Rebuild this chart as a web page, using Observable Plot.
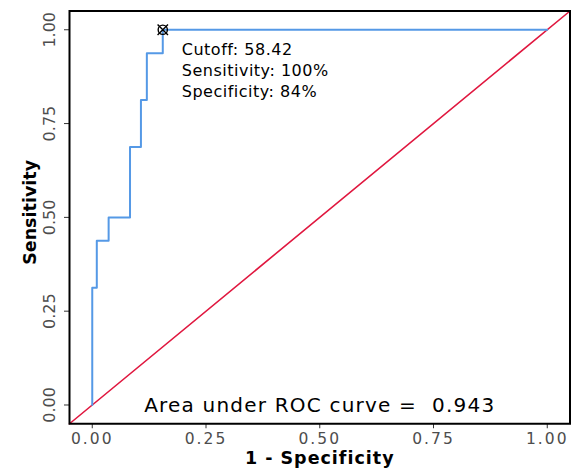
<!DOCTYPE html>
<html><head><meta charset="utf-8">
<script src="https://cdn.jsdelivr.net/npm/d3@7"></script>
<script src="https://cdn.jsdelivr.net/npm/@observablehq/plot@0.6"></script>
<style>body{margin:0;background:#fff}</style>
</head><body><div id="chart"></div>
<script>
// ROC curve points (1 - specificity, sensitivity)
const fpr = [0, 0, 0.01, 0.036, 0.083, 0.107, 0.12, 0.155, 1];
const tpr = [0, 0.3125, 0.4375, 0.5, 0.6875, 0.8125, 0.9375, 1, 1];
const tickValues = [0, 0.25, 0.5, 0.75, 1];
const tickLabels = ["0.00", "0.25", "0.50", "0.75", "1.00"];
const cutoffFpr = [0.155];
const cutoffTpr = [1];
const cutoffLines = ["Cutoff: 58.42", "Sensitivity: 100%", "Specificity: 84%"];
const aucLabel = ["Area under ROC curve =\u00a0\u00a00.943"];
const xTitle = ["1 - Specificity"];
const yTitle = ["Sensitivity"];
const domain = [-0.05, 1.05];

const roc = fpr.map((f, i) => ({fpr: f, tpr: tpr[i]}));
const cutoff = cutoffFpr.map((f, i) => ({fpr: f, tpr: cutoffTpr[i], text: cutoffLines.join("\n")}));
const fmt = d => tickLabels[tickValues.indexOf(d)];

const blue = "#5599e6";
const red = "#e0173f";

const plot = Plot.plot({
  width: 576,
  height: 468,
  marginLeft: 69,
  marginRight: 6.5,
  marginTop: 10.5,
  marginBottom: 44.75,
  style: {fontFamily: "DejaVu Sans", background: "white"},
  x: {domain, label: null},
  y: {domain, label: null},
  marks: [
    Plot.line(domain, {x: d => d, y: d => d, stroke: red, strokeWidth: 1.6}),
    Plot.line(roc, {x: "fpr", y: "tpr", curve: "step-after", stroke: blue, strokeWidth: 2}),
    Plot.dot(cutoff, {x: "fpr", y: "tpr", r: 4.6, stroke: "black", strokeWidth: 1.4, fill: "none"}),
    Plot.dot(cutoff, {x: "fpr", y: "tpr", symbol: "times", r: 4.8, stroke: "black", strokeWidth: 1.4}),
    Plot.text(cutoff, {x: "fpr", y: "tpr", text: "text", textAnchor: "start", lineAnchor: "bottom",
      lineHeight: 1.3, dx: 19, dy: 67, fontSize: 16, fill: "black"}),
    Plot.text(aucLabel, {x: 0.5, y: 0, text: d => d, fontSize: 20, lineAnchor: "bottom", dy: 7,
      fill: "black"}),
    Plot.axisX(tickValues, {tickSize: 5, tickPadding: 4, tickFormat: fmt, fontSize: 15.5,
      stroke: "#333", fill: "#4d4d4d", label: null}),
    Plot.axisY(tickValues, {tickSize: 5, tickFormat: () => "", stroke: "#333", label: null}),
    Plot.text(tickValues, {y: d => d, text: fmt, frameAnchor: "left", dx: -20, rotate: -90,
      fontSize: 16, fill: "#4d4d4d", textAnchor: "middle", lineAnchor: "middle"}),
    Plot.text(yTitle, {y: 0.5, text: d => d, frameAnchor: "left", dx: -39, dy: -5, rotate: -90,
      fontSize: 17.5, fontWeight: "bold", fill: "black", textAnchor: "middle", lineAnchor: "middle"}),
    Plot.text(xTitle, {x: 0.5, text: d => d, frameAnchor: "bottom", dy: 40, lineAnchor: "bottom",
      fontSize: 17.5, fontWeight: "bold", fill: "black"}),
    Plot.frame({stroke: "black", strokeWidth: 2})
  ]
});

d3.select(plot).selectAll("text").each(function () {
  const t = this.textContent;
  const rotated = (this.getAttribute("transform") || "").includes("rotate");
  let ls = null;
  if (t === aucLabel[0]) ls = "1.2px";
  else if (t.startsWith("Cutoff")) ls = "0.5px";
  else if (t === xTitle[0]) ls = "1px";
  else if (tickLabels.includes(t) && !rotated) ls = "2px";
  if (ls) { this.setAttribute("letter-spacing", ls); this.style.letterSpacing = ls; }
});
document.getElementById("chart").append(plot);
</script>
</body></html>
